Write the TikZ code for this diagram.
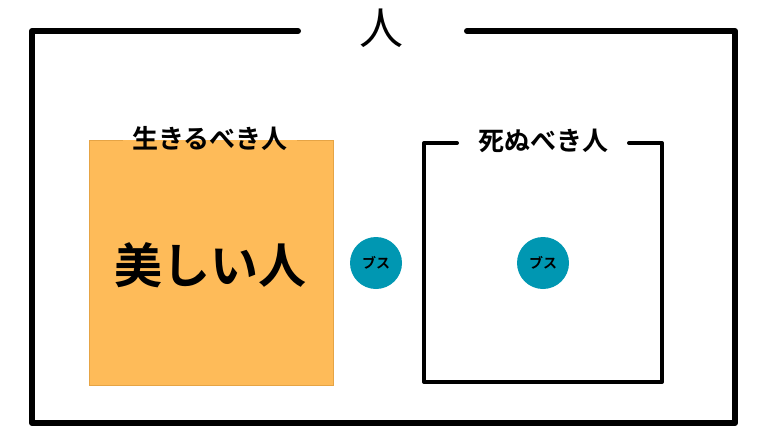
\documentclass[tikz,border=0pt]{standalone}
\usepackage{fontspec}
\newfontfamily\jpfont{Noto Sans CJK JP}
\newfontfamily\jpbold{Noto Sans CJK JP Bold}
\definecolor{boxorange}{HTML}{FEBB59}
\definecolor{boxedge}{HTML}{E6A445}
\definecolor{teal}{HTML}{0097B2}
\tikzset{
  frameline/.style={line width=6pt, line join=round, line cap=round},
  innerline/.style={line width=4pt, line join=round, line cap=round},
  titletext/.style={font=\jpbold\fontsize{26}{30}\selectfont, inner sep=0pt},
  bustcircle/.style={circle, fill=teal, minimum size=52pt, inner sep=0pt, font=\jpbold\fontsize{14}{16}\selectfont},
}
\begin{document}
\begin{tikzpicture}[x=1pt,y=-1pt]
\useasboundingbox (0,0) rectangle (760,428);
% outer frame
\node[inner sep=0pt, font=\jpfont\fontsize{44}{48}\selectfont] (hito) at (381,28) {人};
\draw[frameline] (298,31) -- (32,31) -- (32,423) -- (735,423) -- (735,31) -- (467,31);
% orange box
\fill[boxorange] (89,140) rectangle (333,385);
\draw[boxedge, line width=0.8pt] (123,140) -- (89,140) -- (89,385) -- (333,385) -- (333,140) -- (297,140);
\node[titletext] (live) at (210,139) {生きるべき人};
\node[inner sep=0pt, font=\jpbold\fontsize{48}{52}\selectfont] (beauty) at (210,265) {美しい人};
% middle circle
\node[bustcircle] (b1) at (376,263) {ブス};
% right box
\draw[innerline] (457,143) -- (424,143) -- (424,382) -- (662,382) -- (662,143) -- (629,143);
\node[titletext] (die) at (543,141) {死ぬべき人};
\node[bustcircle] (b2) at (543,263) {ブス};
\end{tikzpicture}
\end{document}
